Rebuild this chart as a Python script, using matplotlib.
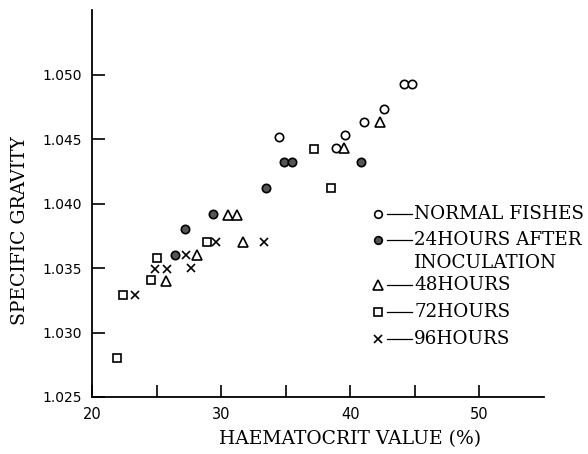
import matplotlib
matplotlib.use("Agg")
import matplotlib.pyplot as plt

# haematocrit (%) vs specific gravity of blood, by time after inoculation
normal_hct = [34.5, 38.9, 39.6, 41.1, 42.6, 44.2, 44.8]
normal_sg = [1.0452, 1.0443, 1.0453, 1.0463, 1.0473, 1.0493, 1.0493]

h24_hct = [26.4, 27.2, 29.4, 33.5, 34.9, 35.5, 40.8]
h24_sg = [1.0360, 1.0380, 1.0392, 1.0412, 1.0432, 1.0432, 1.0432]

h48_hct = [25.7, 28.1, 30.5, 31.2, 31.7, 39.5, 42.3]
h48_sg = [1.0340, 1.0360, 1.0391, 1.0391, 1.0370, 1.0443, 1.0463]

h72_hct = [21.9, 22.4, 24.6, 25.0, 28.9, 37.2, 38.5]
h72_sg = [1.0280, 1.0329, 1.0341, 1.0358, 1.0370, 1.0442, 1.0412]

h96_hct = [23.3, 24.9, 25.8, 27.3, 27.7, 29.6, 33.3]
h96_sg = [1.0329, 1.0349, 1.0349, 1.0360, 1.0350, 1.0370, 1.0370]

legend_labels = ["NORMAL FISHES", "24HOURS AFTER\nINOCULATION", "48HOURS", "72HOURS", "96HOURS"]

xticks = [20, 25, 30, 35, 40, 45, 50]
xticklabels = ["20", "", "30", "", "40", "", "50"]
yticks = [1.025, 1.030, 1.035, 1.040, 1.045, 1.050]
yticklabels = ["1.025", "1.030", "1.035", "1.040", "1.045", "1.050"]

# marker styles for each group
styles = [
    dict(marker="o", ms=6, mfc="white", mec="black", mew=1.2),
    dict(marker="o", ms=6, mfc="#555555", mec="black", mew=1.2),
    dict(marker="^", ms=7, mfc="white", mec="black", mew=1.2),
    dict(marker="s", ms=6, mfc="white", mec="black", mew=1.2),
    dict(marker="x", ms=6, mfc="none", mec="black", mew=1.2),
]
series = [(normal_hct, normal_sg), (h24_hct, h24_sg), (h48_hct, h48_sg),
          (h72_hct, h72_sg), (h96_hct, h96_sg)]

serif = "DejaVu Serif"

fig = plt.figure(figsize=(5.88, 4.54), dpi=100)
ax = fig.add_axes([0.1565, 0.1256, 0.7685, 0.852])

for (x, y), st in zip(series, styles):
    ax.plot(x, y, ls="none", **st)

ax.set_xlim(20, 55)
ax.set_ylim(1.025, 1.055)
ax.spines["top"].set_visible(False)
ax.spines["right"].set_visible(False)
ax.spines["left"].set_linewidth(1.3)
ax.spines["bottom"].set_linewidth(1.3)

ax.set_xticks(xticks)
ax.set_xticklabels(xticklabels, fontfamily="DejaVu Sans", fontsize=10.5)
ax.set_yticks(yticks)
ax.set_yticklabels(yticklabels, fontfamily="DejaVu Sans", fontsize=10)
ax.tick_params(direction="in", length=9, width=1.2, pad=7)

ax.set_xlabel("HAEMATOCRIT VALUE (%)", fontfamily=serif, fontsize=13.5)
ax.xaxis.set_label_coords(0.571, -0.085)
ax.set_ylabel("SPECIFIC GRAVITY", fontfamily=serif, fontsize=13.5)
ax.yaxis.set_label_coords(-0.14, 0.43)

# hand-made key: marker, short dash, label (one row per text line)
row_y = [0.473, 0.406, 0.289, 0.220, 0.150]
line_step = 0.06
mk_x = 0.632
for st, lab, ry in zip(styles, legend_labels, row_y):
    ax.plot([mk_x], [ry], transform=ax.transAxes, clip_on=False, ls="none",
            **dict(st, ms=st["ms"] - 0.5))
    ax.plot([0.653, 0.708], [ry, ry], transform=ax.transAxes,
            color="black", lw=0.9, clip_on=False)
    for i, part in enumerate(lab.split("\n")):
        ax.text(0.713, ry - i * line_step, part, transform=ax.transAxes,
                ha="left", va="center", fontfamily=serif, fontsize=13.2)

fig.savefig("out.png", dpi=100)
